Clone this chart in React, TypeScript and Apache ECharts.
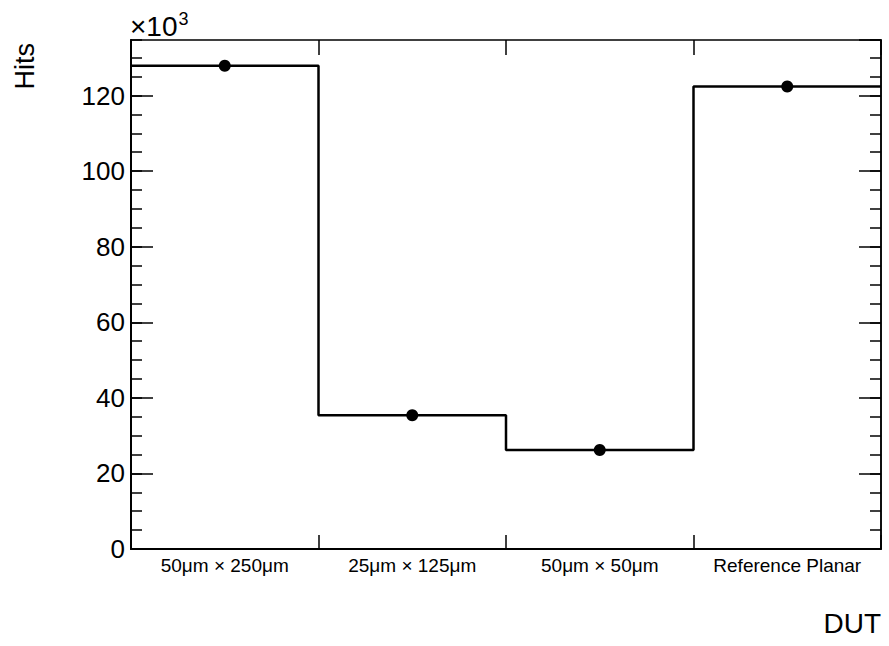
import React, { useEffect, useRef } from "react";
import * as echarts from "echarts";

const categories = ["50μm × 250μm", "25μm × 125μm", "50μm × 50μm", "Reference Planar"];
const hitsK = [127.9, 35.4, 26.2, 122.4];
const yMax = 134.7;
const yTitle = "Hits";
const xTitle = "DUT";

const FONT = "'Liberation Sans', Arial, Helvetica, sans-serif";

export default function App() {
  const ref = useRef<HTMLDivElement>(null);
  useEffect(() => {
    if (!ref.current) return;
    const chart = echarts.init(ref.current, null, { renderer: "svg" });
    const stepData: [number, number][] = hitsK.map((v, i) => [i, v]);
    stepData.push([hitsK.length, hitsK[hitsK.length - 1]]);
    const lineStyle = { color: "#000", width: 1.5 };
    const yBase = {
      type: "value" as const,
      min: 0,
      max: yMax,
      splitLine: { show: false },
      axisLine: { show: true, onZero: false, lineStyle },
    };
    chart.setOption({
      animation: false,
      backgroundColor: "#fff",
      grid: { left: 131, right: 8, top: 40, bottom: 97, containLabel: false },
      xAxis: [
        {
          type: "category",
          data: categories,
          position: "bottom",
          boundaryGap: true,
          axisLine: { show: true, onZero: false, lineStyle: { color: "#000", width: 2 } },
          axisTick: { show: true, inside: true, length: 14, lineStyle },
          axisLabel: { color: "#000", fontFamily: FONT, fontSize: 19, margin: 7, interval: 0 },
          splitLine: { show: false },
        },
        {
          type: "value",
          min: 0,
          max: categories.length,
          show: false,
        },
        {
          type: "category",
          data: categories,
          position: "top",
          boundaryGap: true,
          axisLine: { show: true, onZero: false, lineStyle },
          axisTick: { show: true, inside: true, length: 15, lineStyle },
          axisLabel: { show: false },
          splitLine: { show: false },
        },
      ],
      yAxis: [
        {
          ...yBase,
          position: "left",
          interval: 20,
          axisLine: { show: true, onZero: false, lineStyle: { color: "#000", width: 2 } },
          axisTick: { show: true, inside: true, length: 22, lineStyle },
          axisLabel: {
            color: "#000",
            fontFamily: FONT,
            fontSize: 26,
            margin: 6,
            showMaxLabel: false,
          },
        },
        {
          ...yBase,
          position: "left",
          interval: 5,
          axisTick: { show: true, inside: true, length: 11, lineStyle },
          axisLabel: { show: false },
        },
        {
          ...yBase,
          position: "right",
          interval: 20,
          axisTick: { show: true, inside: true, length: 22, lineStyle },
          axisLabel: { show: false },
        },
        {
          ...yBase,
          position: "right",
          interval: 5,
          axisTick: { show: true, inside: true, length: 11, lineStyle },
          axisLabel: { show: false },
        },
      ],
      series: [
        {
          type: "line",
          xAxisIndex: 1,
          yAxisIndex: 0,
          step: "end",
          data: stepData,
          showSymbol: false,
          symbol: "none",
          lineStyle: { color: "#000", width: 2.5 },
          z: 3,
        },
        {
          type: "scatter",
          xAxisIndex: 0,
          yAxisIndex: 0,
          data: hitsK,
          symbol: "circle",
          symbolSize: 12,
          itemStyle: { color: "#000", opacity: 1 },
          z: 4,
        },
      ],
      graphic: [
        {
          type: "text",
          x: 38,
          y: 43,
          rotation: Math.PI / 2,
          style: {
            text: yTitle,
            fill: "#000",
            fontSize: 27,
            fontFamily: FONT,
            align: "right",
            verticalAlign: "bottom",
          },
        },
        {
          type: "text",
          x: 881,
          y: 623,
          style: {
            text: xTitle,
            fill: "#000",
            fontSize: 28,
            fontFamily: FONT,
            align: "right",
            verticalAlign: "middle",
          },
        },
        {
          type: "text",
          x: 130,
          y: 26,
          style: {
            text: "×10",
            fill: "#000",
            fontSize: 28,
            fontFamily: FONT,
            align: "left",
            verticalAlign: "middle",
          },
        },
        {
          type: "text",
          x: 178.5,
          y: 18.5,
          style: {
            text: "3",
            fill: "#000",
            fontSize: 18,
            fontFamily: FONT,
            align: "left",
            verticalAlign: "middle",
          },
        },
      ],
    });
    return () => chart.dispose();
  }, []);
  return (
    <div
      ref={ref}
      style={{ position: "fixed", left: 0, top: 0, width: 889, height: 646, background: "#fff" }}
    />
  );
}
